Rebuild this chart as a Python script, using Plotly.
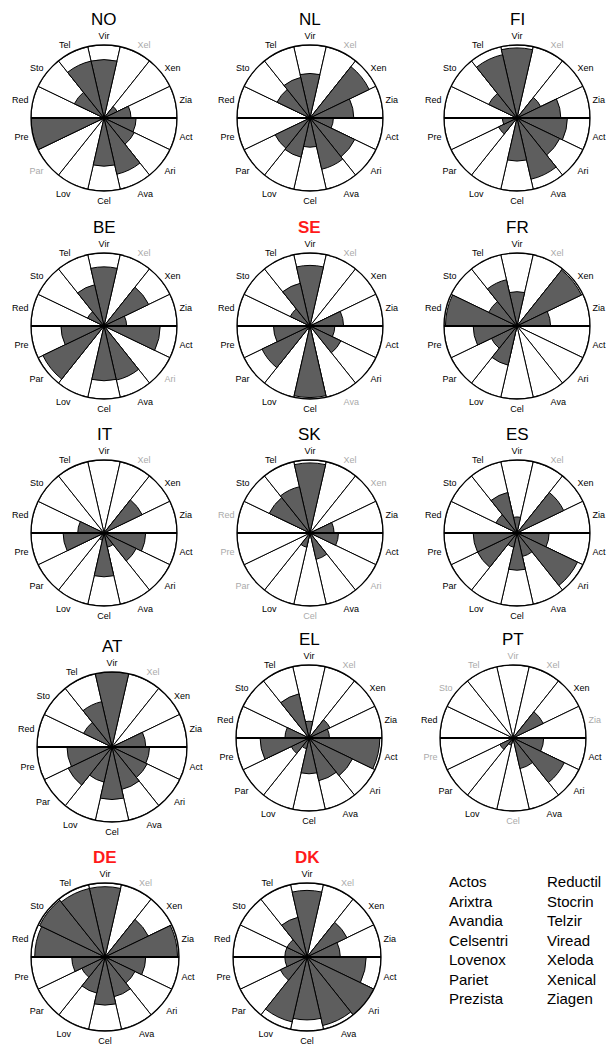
import plotly.graph_objects as go

categories = ["Vir", "Xel", "Xen", "Zia", "Act", "Ari", "Ava", "Cel", "Lov", "Par", "Pre", "Red", "Sto", "Tel"]
countries = ["NO", "NL", "FI", "BE", "SE", "FR", "IT", "SK", "ES", "AT", "EL", "PT", "DE", "DK"]
highlighted = ["SE", "DE", "DK"]

# values per country, in category order (None = no data, grey label)
NO = [80, None, 20, 37, 44, 46, 79, 66, 0, None, 100, 0, 45, 80]
NL = [61, None, 90, 60, 32, 68, 72, 40, 55, 53, 0, 0, 50, 57]
FI = [96, None, 36, 60, 69, 65, 86, 59, 0, 28, 20, 0, 43, 89]
BE = [81, None, 68, 31, 77, None, 76, 75, 0, 93, 59, 0, 25, 58]
SE = [83, None, 0, 46, 34, 47, None, 98, 5, 73, 50, 0, 30, 60]
FR = [47, None, 98, 46, 0, 0, 0, 0, 55, 39, 60, 98, 43, 65]
IT = [0, None, 58, 0, 57, 49, 20, 60, 10, 0, 56, 36, 0, 0]
SK = [96, None, None, 33, 39, None, 37, None, 20, None, None, None, 62, 65]
ES = [22, None, 71, 0, 44, 92, 33, 51, 20, 60, 60, 0, 32, 57]
AT = [100, None, 0, 45, 50, 52, 58, 70, 48, 65, 60, 0, 42, 62]
EL = [23, None, 32, 28, 97, 66, 60, 49, 15, 27, 67, 33, 0, 62]
PT = [None, None, 46, None, 42, 78, 43, None, 10, 20, None, 0, None, None]
DE = [95, None, 65, 98, 55, 45, 55, 65, 50, 35, 45, 95, 98, 95]
DK = [90, None, 60, 45, 80, 100, 95, 85, 90, 40, 30, 30, 30, 55]

series = [NO, NL, FI, BE, SE, FR, IT, SK, ES, AT, EL, PT, DE, DK]

legend_left = ["Actos", "Arixtra", "Avandia", "Celsentri", "Lovenox", "Pariet", "Prezista"]
legend_right = ["Reductil", "Stocrin", "Telzir", "Viread", "Xeloda", "Xenical", "Ziagen"]

RMAX = 100
W, H = 608, 1057

# pixel layout of each small chart: (center x, center y, radius)
geom = [
    (104, 118, 73), (310, 118, 73), (517, 118, 73),
    (104, 326, 73), (310, 326, 73), (517, 326, 73),
    (104, 533, 73), (310, 533, 73), (517, 533, 73),
    (112, 747, 75), (309, 738, 73), (513, 738, 73),
    (105, 957, 74), (307, 957, 74),
]

FONT = "Liberation Sans, Arial, sans-serif"
fig = go.Figure()
annotations = []
shapes = []
layout_polars = {}

for i, (name, vals) in enumerate(zip(countries, series)):
    key = "polar" if i == 0 else f"polar{i+1}"
    cx, cy, r = geom[i]
    fig.add_trace(go.Barpolar(
        r=[RMAX] * len(categories), theta=categories, subplot=key,
        marker=dict(color="white", line=dict(color="black", width=1)),
        hoverinfo="skip"))
    fig.add_trace(go.Barpolar(
        r=vals, theta=categories, subplot=key,
        marker=dict(color="#5e5e5e", line=dict(color="black", width=1))))
    ticktext = [c if v is not None else f'<span style="color:#aaaaaa">{c}</span>'
                for c, v in zip(categories, vals)]
    layout_polars[key] = dict(
        domain=dict(x=[(cx - r) / W, (cx + r) / W], y=[1 - (cy + r) / H, 1 - (cy - r) / H]),
        bgcolor="white",
        bargap=0,
        barmode="overlay",
        radialaxis=dict(visible=False, range=[0, RMAX]),
        angularaxis=dict(
            type="category", categoryarray=categories, direction="clockwise", rotation=90,
            tickmode="array", tickvals=categories, ticktext=ticktext,
            tickfont=dict(size=9, family=FONT, color="black"),
            showgrid=False, showline=True, linecolor="black", linewidth=1.3,
            ticks="outside", ticklen=2, tickcolor="rgba(0,0,0,0)"),
    )
    hl = name in highlighted
    annotations.append(dict(
        x=cx / W, y=1 - (cy - r - 26) / H, xref="paper", yref="paper",
        text=f"<b>{name}</b>" if hl else name, showarrow=False,
        xanchor="center", yanchor="middle",
        font=dict(size=17, family=FONT, color="#ff1a1a" if hl else "black")))
    shapes.append(dict(
        type="line", xref="paper", yref="paper",
        x0=(cx - r) / W, x1=(cx + r) / W, y0=1 - cy / H, y1=1 - cy / H,
        line=dict(color="black", width=2), layer="above"))

annotations.append(dict(
    x=447 / W, y=1 - 940 / H, xref="paper", yref="paper", text="<br>".join(legend_left),
    showarrow=False, xanchor="left", yanchor="middle", align="left",
    font=dict(size=15, family=FONT, color="black")))
annotations.append(dict(
    x=545 / W, y=1 - 940 / H, xref="paper", yref="paper", text="<br>".join(legend_right),
    showarrow=False, xanchor="left", yanchor="middle", align="left",
    font=dict(size=15, family=FONT, color="black")))

fig.update_layout(
    width=W, height=H, margin=dict(l=0, r=0, t=0, b=0),
    paper_bgcolor="white", plot_bgcolor="white", showlegend=False,
    annotations=annotations, shapes=shapes, **layout_polars)

fig.write_html("out.html", config={"displayModeBar": False},
               post_script="document.body.style.margin='0px';document.body.style.overflow='hidden';")
